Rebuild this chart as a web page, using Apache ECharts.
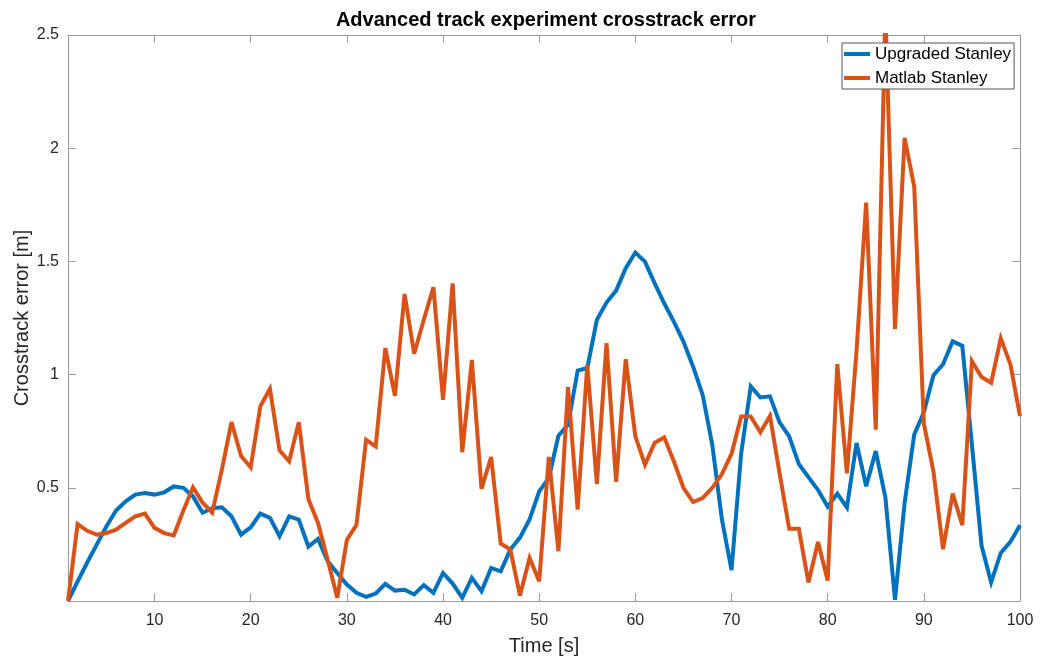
<!DOCTYPE html>
<html>
<head>
<meta charset="utf-8">
<script src="https://cdn.jsdelivr.net/npm/echarts@6/dist/echarts.min.js"></script>
<style>
  html, body { margin: 0; padding: 0; background: #fff; }
  #chart { width: 1043px; height: 662px; }
</style>
</head>
<body>
<div id="chart"></div>
<script>
// Sample times [s]
const timeS = [
  1, 2, 3, 4, 5, 6, 7, 8, 9, 10, 11, 12, 13, 14, 15, 16, 17, 18, 19, 20,
  21, 22, 23, 24, 25, 26, 27, 28, 29, 30, 31, 32, 33, 34, 35, 36, 37, 38, 39, 40,
  41, 42, 43, 44, 45, 46, 47, 48, 49, 50, 51, 52, 53, 54, 55, 56, 57, 58, 59, 60,
  61, 62, 63, 64, 65, 66, 67, 68, 69, 70, 71, 72, 73, 74, 75, 76, 77, 78, 79, 80,
  81, 82, 83, 84, 85, 86, 87, 88, 89, 90, 91, 92, 93, 94, 95, 96, 97, 98, 99, 100
];

// Crosstrack error [m] of the upgraded controller
const upgradedStanley = [
  0.000, 0.087, 0.170, 0.250, 0.330, 0.400, 0.440, 0.470, 0.477, 0.470,
  0.480, 0.506, 0.500, 0.462, 0.390, 0.410, 0.414, 0.374, 0.293, 0.325,
  0.386, 0.367, 0.286, 0.374, 0.360, 0.240, 0.274, 0.176, 0.124, 0.073,
  0.036, 0.018, 0.033, 0.076, 0.046, 0.050, 0.029, 0.070, 0.036, 0.124,
  0.077, 0.014, 0.102, 0.043, 0.146, 0.131, 0.227, 0.280, 0.360, 0.484,
  0.543, 0.730, 0.778, 1.018, 1.029, 1.242, 1.318, 1.371, 1.470, 1.539,
  1.499, 1.404, 1.315, 1.234, 1.146, 1.036, 0.910, 0.690, 0.360, 0.136,
  0.650, 0.948, 0.899, 0.904, 0.789, 0.727, 0.605, 0.547, 0.490, 0.417,
  0.474, 0.413, 0.698, 0.507, 0.662, 0.458, 0.005, 0.433, 0.735, 0.833,
  0.997, 1.046, 1.147, 1.127, 0.690, 0.245, 0.082, 0.212, 0.261, 0.335
];

// Crosstrack error [m] of the reference MATLAB controller
const matlabStanley = [
  0.000, 0.340, 0.310, 0.293, 0.300, 0.315, 0.345, 0.374, 0.386, 0.323,
  0.300, 0.290, 0.400, 0.502, 0.434, 0.390, 0.580, 0.790, 0.640, 0.590,
  0.860, 0.937, 0.665, 0.617, 0.790, 0.450, 0.345, 0.183, 0.014, 0.270,
  0.337, 0.712, 0.683, 1.117, 0.906, 1.356, 1.092, 1.242, 1.386, 0.889,
  1.403, 0.657, 1.065, 0.495, 0.636, 0.254, 0.227, 0.024, 0.190, 0.087,
  0.636, 0.220, 0.945, 0.404, 1.043, 0.517, 1.139, 0.526, 1.068, 0.727,
  0.602, 0.698, 0.723, 0.617, 0.500, 0.437, 0.455, 0.500, 0.560, 0.650,
  0.815, 0.815, 0.745, 0.817, 0.564, 0.319, 0.319, 0.082, 0.261, 0.090,
  1.046, 0.564, 1.103, 1.760, 0.757, 2.600, 1.201, 2.046, 1.830, 0.784,
  0.572, 0.229, 0.474, 0.335, 1.059, 0.989, 0.964, 1.160, 1.046, 0.817
];

const seriesNames = ['Upgraded Stanley', 'Matlab Stanley'];
const seriesColors = ['#0072BD', '#D95319'];

const xTicks = [10, 20, 30, 40, 50, 60, 70, 80, 90, 100];
const yTicks = [0.5, 1, 1.5, 2, 2.5];

const FONT = '"Liberation Sans", Arial, Helvetica, sans-serif';
const AXIS_GREY = '#9a9a9a';
const TEXT_GREY = '#262626';

function xAxisDef(position, withLabels) {
  return {
    type: 'value',
    position: position,
    min: 1,
    max: 100,
    name: withLabels ? 'Time [s]' : '',
    nameLocation: 'middle',
    nameGap: 35,
    nameMoveOverlap: false,
    nameTextStyle: { fontFamily: FONT, fontSize: 20, color: TEXT_GREY },
    axisLine: { show: true, onZero: false, lineStyle: { color: AXIS_GREY, width: 1 } },
    axisTick: { show: true, inside: true, length: 8, customValues: xTicks,
                lineStyle: { color: AXIS_GREY, width: 1 } },
    axisLabel: { show: withLabels, customValues: xTicks, margin: 12,
                 fontFamily: FONT, fontSize: 16, color: TEXT_GREY },
    splitLine: { show: false }
  };
}

function yAxisDef(position, withLabels) {
  return {
    type: 'value',
    position: position,
    min: 0,
    max: 2.5,
    interval: 0.5,
    name: withLabels ? 'Crosstrack error [m]' : '',
    nameLocation: 'middle',
    nameGap: 36,
    nameMoveOverlap: false,
    nameTextStyle: { fontFamily: FONT, fontSize: 20, color: TEXT_GREY },
    axisLine: { show: true, onZero: false, lineStyle: { color: AXIS_GREY, width: 1 } },
    axisTick: { show: true, inside: true, length: 8, customValues: yTicks,
                lineStyle: { color: AXIS_GREY, width: 1 } },
    axisLabel: { show: withLabels, customValues: yTicks, margin: 9,
                 fontFamily: FONT, fontSize: 16, color: TEXT_GREY },
    splitLine: { show: false }
  };
}

function lineSeries(idx, values) {
  return {
    name: seriesNames[idx],
    type: 'line',
    xAxisIndex: 0,
    yAxisIndex: 0,
    data: timeS.map((t, i) => [t, values[i]]),
    showSymbol: false,
    symbol: 'none',
    clip: true,
    z: 2 + idx,
    lineStyle: { color: seriesColors[idx], width: 4, join: 'miter', miterLimit: 4 },
    itemStyle: { color: seriesColors[idx] }
  };
}

const chart = echarts.init(document.getElementById('chart'), null, { renderer: 'canvas' });
chart.setOption({
  animation: false,
  backgroundColor: '#ffffff',
  title: {
    text: 'Advanced track experiment crosstrack error',
    left: 541,
    top: 5,
    textAlign: 'center',
    textStyle: { fontFamily: FONT, fontSize: 20, fontWeight: 'bold', color: '#000' }
  },
  grid: { left: 68, right: 23, top: 35, bottom: 61, containLabel: false, outerBoundsMode: 'none' },
  legend: {
    data: seriesNames,
    orient: 'vertical',
    left: 842,
    top: 43,
    padding: [1, 3, 1, 2],
    itemGap: 4,
    itemWidth: 26,
    itemHeight: 4,
    itemTextGap: 1,
    icon: 'rect',
    backgroundColor: '#ffffff',
    borderColor: '#555555',
    borderWidth: 1,
    borderRadius: 0,
    textStyle: { fontFamily: FONT, fontSize: 17, color: '#000', lineHeight: 20 }
  },
  xAxis: [xAxisDef('bottom', true), xAxisDef('top', false)],
  yAxis: [yAxisDef('left', true), yAxisDef('right', false)],
  series: [lineSeries(0, upgradedStanley), lineSeries(1, matlabStanley)]
});
</script>
</body>
</html>
